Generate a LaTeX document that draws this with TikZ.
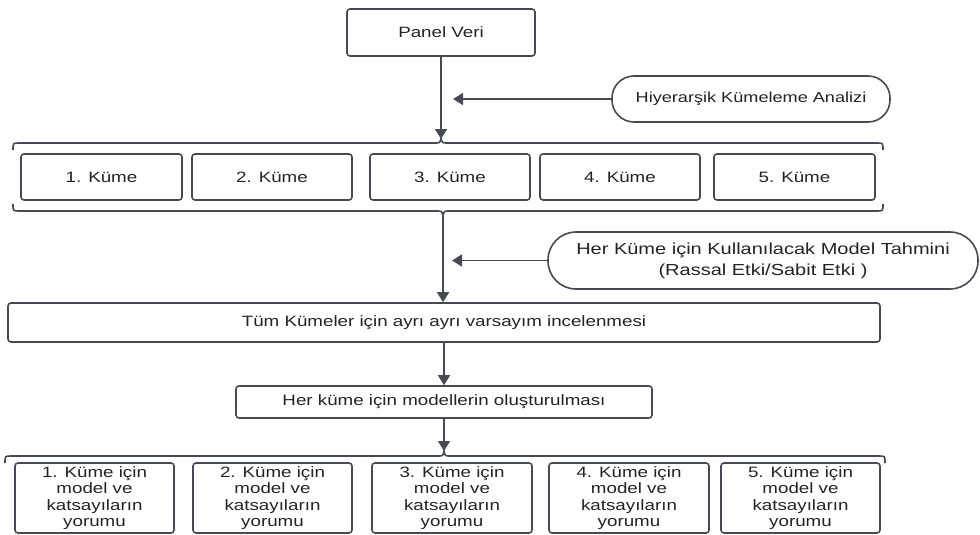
\documentclass[tikz,border=0pt]{standalone}
\usepackage{fontspec}
\setmainfont{Liberation Sans}[FakeStretch=1.25]
\usetikzlibrary{arrows.meta}

\definecolor{cizgi}{RGB}{70,75,83}
\definecolor{yazi}{RGB}{35,35,35}

\tikzset{
  kutu/.style={draw=cizgi,line width=1.6pt,rounded corners=3pt,inner sep=0pt,
    align=center,text=yazi,font=\fontsize{15}{16.5}\selectfont},
  oval/.style={kutu,rounded corners=#1,font=\fontsize{16}{21}\selectfont},
  ok/.style={draw=cizgi,line width=1.6pt,-{Triangle[length=10pt,width=12pt]}},
  ayrac/.style={draw=cizgi,line width=1.6pt},
}

\begin{document}
\begin{tikzpicture}[x=1pt,y=-1pt]
  \useasboundingbox (0,0) rectangle (980,535);
  % ust kisim
  \node[kutu,minimum width=188pt,minimum height=47pt] (panel) at (441,32.5) {Panel Veri};
  \node[oval=22pt,minimum width=278pt,minimum height=46pt,font=\fontsize{14.5}{16}\selectfont]
    (hka) at (751,99) {Hiyerarşik Kümeleme Analizi};
  \coordinate (ust1) at (441,139);
  \coordinate (hok) at (453,99);
  \draw[ok] (panel.south) -- (ust1);
  \draw[ok] (hka.west) -- (hok);
  % kumeler
  \draw[ayrac] (13,150) .. controls (13,143) .. (19,143) -- (435,143)
    .. controls (440,143) .. (441,138) .. controls (442,143) .. (447,143)
    -- (877,143) .. controls (883,143) .. (883,150);
  \node[kutu,minimum width=161pt,minimum height=46pt] (k1) at (101.5,177) {1. Küme};
  \node[kutu,minimum width=160pt,minimum height=46pt] (k2) at (272,177) {2. Küme};
  \node[kutu,minimum width=160pt,minimum height=46pt] (k3) at (450,177) {3. Küme};
  \node[kutu,minimum width=160pt,minimum height=46pt] (k4) at (620,177) {4. Küme};
  \node[kutu,minimum width=161pt,minimum height=46pt] (k5) at (794.5,177) {5. Küme};
  \draw[ayrac] (13,204) .. controls (13,211) .. (19,211) -- (437,211)
    .. controls (442,211) .. (443,216) .. controls (444,211) .. (449,211)
    -- (877,211) .. controls (883,211) .. (883,204);
  \coordinate (alt1) at (443,215);
  % model
  \node[oval=28pt,minimum width=430pt,minimum height=57pt] (model) at (763,260.5)
    {Her Küme için Kullanılacak Model Tahmini\\(Rassal Etki/Sabit Etki )};
  \coordinate (mok) at (452,260.5);
  \node[kutu,minimum width=872pt,minimum height=39pt] (tum) at (444,322.5)
    {Tüm Kümeler için ayrı ayrı varsayım incelenmesi};
  \draw[ok] (alt1) -- (alt1 |- tum.north);
  \draw[ok] (model.west) -- (mok);
  \node[kutu,minimum width=416pt,minimum height=32pt] (olus) at (444,402)
    {Her küme için modellerin oluşturulması};
  \draw[ok] (tum.south) -- (olus.north);
  % yorumlar
  \draw[ayrac] (5,463) .. controls (5,456) .. (11,456) -- (438,456)
    .. controls (443,456) .. (444,451) .. controls (445,456) .. (450,456)
    -- (879,456) .. controls (885,456) .. (885,463);
  \coordinate (ust2) at (444,451);
  \draw[ok] (olus.south) -- (ust2);
  \node[kutu,minimum width=159pt,minimum height=70pt] (y1) at (94.5,498)
    {1. Küme için\\model ve\\katsayıların\\yorumu};
  \node[kutu,minimum width=159pt,minimum height=70pt] (y2) at (272.5,498)
    {2. Küme için\\model ve\\katsayıların\\yorumu};
  \node[kutu,minimum width=160pt,minimum height=70pt] (y3) at (452,498)
    {3. Küme için\\model ve\\katsayıların\\yorumu};
  \node[kutu,minimum width=160pt,minimum height=70pt] (y4) at (629,498)
    {4. Küme için\\model ve\\katsayıların\\yorumu};
  \node[kutu,minimum width=159pt,minimum height=70pt] (y5) at (800.5,498)
    {5. Küme için\\model ve\\katsayıların\\yorumu};
\end{tikzpicture}
\end{document}
